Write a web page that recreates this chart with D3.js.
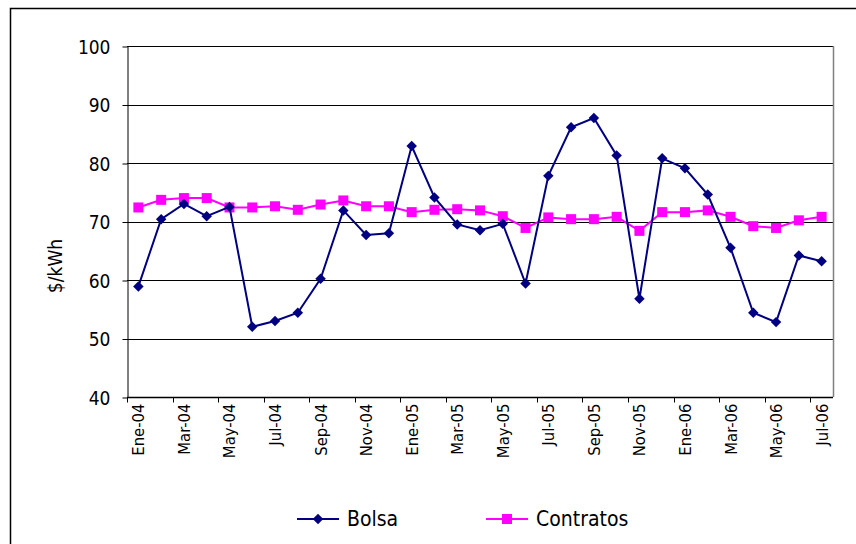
<!DOCTYPE html>
<html>
<head>
<meta charset="utf-8">
<script src="https://cdnjs.cloudflare.com/ajax/libs/d3/7.8.5/d3.min.js"></script>
<style>
  body { margin: 0; background: #fff; }
  text { font-family: "DejaVu Sans Condensed", "DejaVu Sans", sans-serif; font-stretch: condensed; fill: #000; }
</style>
</head>
<body>
<div id="chart"></div>
<script>
// months Ene-04 .. Jul-06
var months = ["Ene-04","Feb-04","Mar-04","Abr-04","May-04","Jun-04","Jul-04","Ago-04","Sep-04","Oct-04","Nov-04","Dic-04",
              "Ene-05","Feb-05","Mar-05","Abr-05","May-05","Jun-05","Jul-05","Ago-05","Sep-05","Oct-05","Nov-05","Dic-05",
              "Ene-06","Feb-06","Mar-06","Abr-06","May-06","Jun-06","Jul-06"];
var bolsa = [58.9, 70.4, 73.0, 70.9, 72.5, 52.0, 53.0, 54.4, 60.2, 71.9, 67.7, 68.0,
             82.9, 74.1, 69.5, 68.5, 69.6, 59.4, 77.8, 86.1, 87.7, 81.3, 56.8, 80.8,
             79.1, 74.6, 65.5, 54.4, 52.8, 64.2, 63.2];
var contratos = [72.4, 73.7, 74.0, 74.0, 72.4, 72.4, 72.6, 72.0, 72.9, 73.6, 72.6, 72.6,
                 71.6, 72.0, 72.1, 71.9, 70.9, 68.9, 70.7, 70.4, 70.4, 70.8, 68.4, 71.6,
                 71.6, 71.9, 70.8, 69.2, 68.9, 70.2, 70.8];
var yTicks = [40, 50, 60, 70, 80, 90, 100];

var W = 856, H = 544;
var pLeft = 127, pRight = 833, pTop = 46, pBottom = 397;

var svg = d3.select("#chart").append("svg")
            .attr("width", W)
            .attr("height", H);

// outer chart border
svg.append("rect")
   .attr("x", 10.5)
   .attr("y", 8.5)
   .attr("width", 900)
   .attr("height", 600)
   .attr("fill", "white")
   .attr("stroke", "black")
   .attr("stroke-width", 1.5);

var x = d3.scaleBand().domain(months).range([pLeft, pRight]);
var y = d3.scaleLinear().domain([40, 100]).range([pBottom, pTop]);

// gridlines
svg.append("g")
   .selectAll("line")
   .data(yTicks.slice(1))
   .join("line")
   .attr("x1", pLeft)
   .attr("x2", pRight)
   .attr("y1", function(d){ return Math.round(y(d)) + 0.5; })
   .attr("y2", function(d){ return Math.round(y(d)) + 0.5; })
   .attr("stroke", "black");

// right border of plot area
svg.append("line")
   .attr("x1", pRight + 0.5)
   .attr("x2", pRight + 0.5)
   .attr("y1", pTop)
   .attr("y2", pBottom)
   .attr("stroke", "#808080")
   .attr("stroke-width", 1.5);

// y axis
var yAxis = svg.append("g")
   .attr("transform", "translate(" + (pLeft + 0.5) + ",0.5)")
   .call(d3.axisLeft(y).tickValues(yTicks).tickSize(5).tickSizeOuter(0).tickPadding(12));
yAxis.select(".domain").attr("stroke", "black");
yAxis.selectAll("text")
     .style("font-size", "19px")
     .attr("dy", "0.35em");

// x axis: ticks between every 2 categories
var xAxis = svg.append("g")
   .attr("transform", "translate(0," + (Math.round(pBottom) + 0.5) + ")");
xAxis.append("line")
     .attr("x1", pLeft)
     .attr("x2", pRight)
     .attr("stroke", "black")
     .attr("stroke-width", 1.5);
xAxis.selectAll("line.tick")
     .data(months.filter(function(d, i){ return i % 2 == 0; }))
     .join("line")
     .attr("class", "tick")
     .attr("x1", function(d){ return Math.round(x(d)) + 0.5; })
     .attr("x2", function(d){ return Math.round(x(d)) + 0.5; })
     .attr("y1", 0)
     .attr("y2", 5)
     .attr("stroke", "black");
xAxis.selectAll("text")
     .data(months.filter(function(d, i){ return i % 2 == 0; }))
     .join("text")
     .attr("transform", function(d){
        return "translate(" + (x(d) + x.bandwidth() / 2 + 6) + ",6) rotate(-90)";
     })
     .attr("text-anchor", "end")
     .style("font-size", "16.5px")
     .text(function(d){ return d; });

// y title
svg.append("text")
   .attr("transform", "translate(62,266) rotate(-90)")
   .attr("text-anchor", "middle")
   .style("font-size", "19px")
   .text("$/kWh");

var cx = function(d, i){ return x(months[i]) + x.bandwidth() / 2; };
var line = d3.line()
             .x(cx)
             .y(function(d){ return y(d); });

// Contratos
svg.append("path")
   .attr("d", line(contratos))
   .attr("fill", "none")
   .attr("stroke", "#FF00FF")
   .attr("stroke-width", 2);
svg.append("g")
   .selectAll("rect")
   .data(contratos)
   .join("rect")
   .attr("x", function(d, i){ return cx(d, i) - 5; })
   .attr("y", function(d){ return y(d) - 5; })
   .attr("width", 10)
   .attr("height", 10)
   .attr("fill", "#FF00FF");

// Bolsa
var diamond = d3.symbol().type(d3.symbolDiamond2).size(70);
svg.append("path")
   .attr("d", line(bolsa))
   .attr("fill", "none")
   .attr("stroke", "#000080")
   .attr("stroke-width", 2);
svg.append("g")
   .selectAll("path")
   .data(bolsa)
   .join("path")
   .attr("transform", function(d, i){ return "translate(" + cx(d, i) + "," + y(d) + ")"; })
   .attr("d", diamond)
   .attr("fill", "#000080");

// legend
var legend = [
  {name: "Bolsa", color: "#000080", x: 297, shape: "diamond"},
  {name: "Contratos", color: "#FF00FF", x: 486, shape: "square"}
];
var lg = svg.append("g").attr("transform", "translate(0,519)");
legend.forEach(function(s){
  lg.append("line")
    .attr("x1", s.x)
    .attr("x2", s.x + 42)
    .attr("stroke", s.color)
    .attr("stroke-width", 2);
  if (s.shape == "diamond") {
    lg.append("path")
      .attr("transform", "translate(" + (s.x + 21) + ",0)")
      .attr("d", diamond)
      .attr("fill", s.color);
  } else {
    lg.append("rect")
      .attr("x", s.x + 16)
      .attr("y", -5)
      .attr("width", 10)
      .attr("height", 10)
      .attr("fill", s.color);
  }
  lg.append("text")
    .attr("x", s.x + 50)
    .attr("y", 0)
    .attr("dy", "0.35em")
    .style("font-size", "21px")
    .text(s.name);
});
</script>
</body>
</html>
